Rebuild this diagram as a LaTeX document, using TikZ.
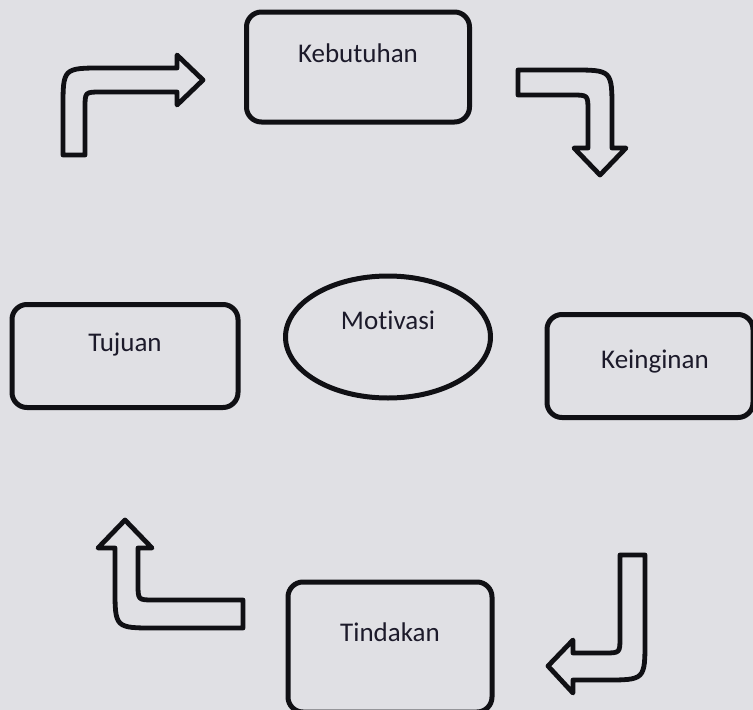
\documentclass[tikz,border=0pt]{standalone}
\usepackage{fontspec}
\setmainfont{Carlito}[Ligatures=NoCommon]
\usetikzlibrary{shapes.geometric}
\definecolor{paper}{RGB}{224,224,228}
\definecolor{ink}{RGB}{16,16,20}
\definecolor{txt}{RGB}{28,26,42}
\tikzset{
	box/.style={draw=ink, line width=5pt, rounded corners=15pt},
	bentarrow/.style={draw=ink, line width=4.8pt, line join=round},
	word/.style={text=txt, font=\fontsize{27}{31}\selectfont}
}
\begin{document}
\begin{tikzpicture}[x=1pt, y=-1pt, every label/.style={word}]
			\clip (0,0) rectangle (753,710);
			\fill[paper] (0,0) rectangle (753,710);
			\node (keb) [box, minimum width=223pt, minimum height=110pt, label={[yshift=14pt]center:Kebutuhan}] at (358,67) {};
			\node (kei) [box, minimum width=206pt, minimum height=103pt, label={[xshift=5pt, yshift=4pt]center:Keinginan}] at (650,366) {};
			\node (tin) [box, minimum width=204pt, minimum height=130pt, label={[yshift=15pt]center:Tindakan}] at (390,647) {};
			\node (tuj) [box, minimum width=226pt, minimum height=103pt, label={[yshift=11pt]center:Tujuan}] at (125,356) {};
			\node (mot) [draw=ink, line width=5pt, ellipse, minimum width=205pt, minimum height=122pt, label={[yshift=17pt]center:Motivasi}] at (388,337) {};
			% bent block arrows
			\draw[bentarrow] (63,155) -- (63,108) .. controls (63,68) .. (103,68) -- (177,68) -- (177,55) -- (203,80) -- (177,105) -- (177,92) -- (101,92) .. controls (85,92) .. (85,108) -- (85,155) -- cycle;
			\draw[bentarrow] (518,70) -- (572,70) .. controls (612,70) .. (612,110) -- (612,148) -- (626,148) -- (600,175) -- (574,148) -- (588,148) -- (588,111) .. controls (588,95) .. (572,95) -- (518,95) -- cycle;
			\draw[bentarrow] (620,555) -- (645,555) -- (645,640) .. controls (645,680) .. (605,680) -- (573,680) -- (573,693) -- (548,666) -- (573,640) -- (573,653) -- (604,653) .. controls (620,653) .. (620,637) -- cycle;
			\draw[bentarrow] (243,600) -- (243,628) -- (155,628) .. controls (115,628) .. (115,588) -- (115,548) -- (98,548) -- (125,520) -- (152,548) -- (138,548) -- (138,584) .. controls (138,600) .. (154,600) -- cycle;
		\end{tikzpicture}
\end{document}
